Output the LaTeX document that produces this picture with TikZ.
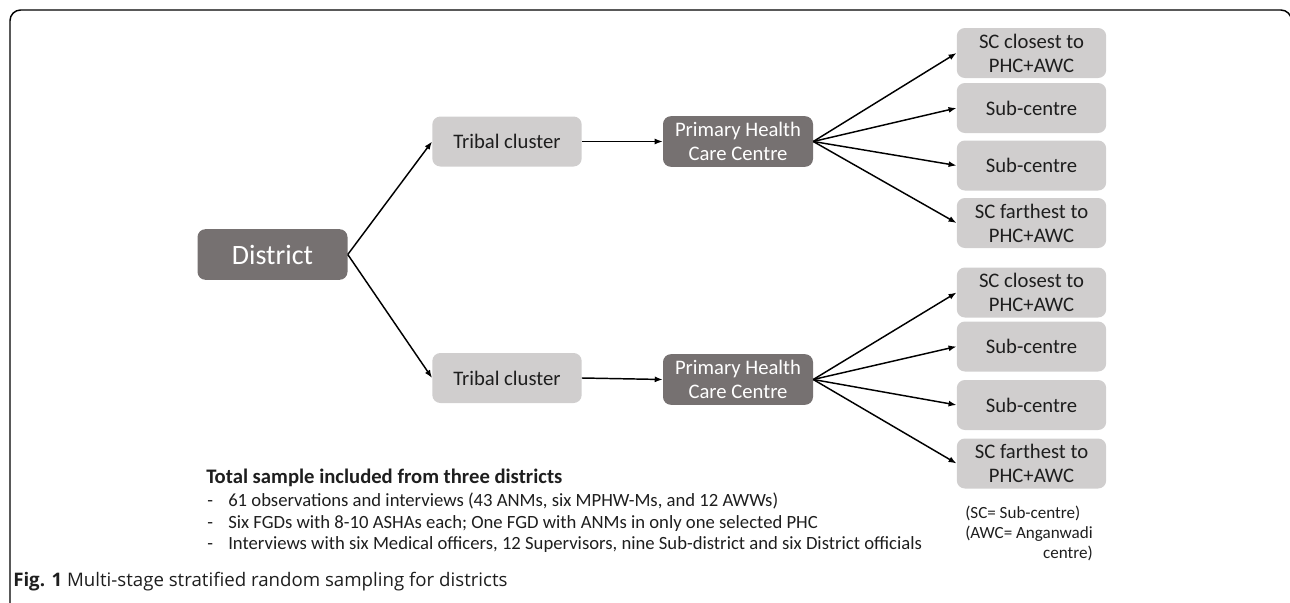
\documentclass[tikz,border=0pt]{standalone}
\usepackage{fontspec}
\setmainfont{Carlito}
\newfontfamily\capfont{Open Sans}
\usepackage{tikz}
\usetikzlibrary{arrows.meta}

\definecolor{darkgrey}{RGB}{118,113,113}
\definecolor{lightgrey}{RGB}{208,206,206}
\definecolor{boxtext}{RGB}{30,30,30}

\tikzset{
  darkbox/.style={rectangle, rounded corners=6pt, fill=darkgrey, text=white, align=center,
    minimum width=112.5pt, minimum height=38pt, inner sep=0pt},
  lightbox/.style={rectangle, rounded corners=6pt, fill=lightgrey, text=boxtext, align=center,
    minimum width=112pt, minimum height=37.5pt, inner sep=0pt,
    font=\fontsize{15.5}{18}\selectfont},
  link/.style={-{Latex[length=6pt,width=4.5pt]}, line width=1.1pt},
  listline/.style={anchor=west, inner sep=0pt, text=boxtext, text height=10pt, text depth=3pt,
    font=\fontsize{14}{16}\selectfont}
}

\begin{document}
\begin{tikzpicture}[x=0.75pt,y=0.75pt,yscale=-1,xscale=1]
\useasboundingbox (0,0) rectangle (1290,603);

%Shape: Frame
\draw [line width=1.1pt, rounded corners=8pt] (10,625) -- (10,10) -- (1291.5,10) -- (1291.5,625);

% District
\node [darkbox, font=\fontsize{21}{24}\selectfont] (district) at (272.5,254.5) {District};

% Tribal clusters
\node [lightbox] (tribalA) at (507,141.5) {Tribal cluster};
\node [lightbox] (tribalB) at (507,378) {Tribal cluster};

% Primary health care centres
\node [darkbox, font=\fontsize{15.5}{18}\selectfont] (phcA) at (738,141.5) {Primary Health\\Care Centre};
\node [darkbox, font=\fontsize{15.5}{18}\selectfont] (phcB) at (738,379.5) {Primary Health\\Care Centre};

% Sub-centres, upper group
\node [lightbox] (scA1) at (1031.5,53) {SC closest to\\PHC+AWC};
\node [lightbox] (scA2) at (1031.5,108) {Sub-centre};
\node [lightbox] (scA3) at (1031.5,165.5) {Sub-centre};
\node [lightbox] (scA4) at (1031.5,223) {SC farthest to\\PHC+AWC};

% Sub-centres, lower group
\node [lightbox] (scB1) at (1031.5,292.5) {SC closest to\\PHC+AWC};
\node [lightbox] (scB2) at (1031.5,346.5) {Sub-centre};
\node [lightbox] (scB3) at (1031.5,405) {Sub-centre};
\node [lightbox] (scB4) at (1031.5,463.5) {SC farthest to\\PHC+AWC};

% Connectors
\draw [link] (district.east) -- (tribalA.west);
\draw [link] (district.east) -- (tribalB.west);
\draw [link] (tribalA.east) -- (phcA.west);
\draw [link] (tribalB.east) -- (phcB.west);
\foreach \i in {1,2,3,4} {
  \draw [link] (phcA.east) -- (scA\i.west);
  \draw [link] (phcB.east) -- (scB\i.west);
}

% Text Node
\node [listline, text height=12pt, font=\bfseries\fontsize{15.5}{18}\selectfont] (sample) at (206,477)
  {Total sample included from three districts};
\node [listline] (dashA) at (207,502) {-};
\node [listline] (lineA) at (228,502) {61 observations and interviews (43 ANMs, six MPHW-Ms, and 12 AWWs)};
\node [listline] (dashB) at (207,523.5) {-};
\node [listline] (lineB) at (228,523.5) {Six FGDs with 8-10 ASHAs each; One FGD with ANMs in only one selected PHC};
\node [listline] (dashC) at (207,545) {-};
\node [listline] (lineC) at (228,545) {Interviews with six Medical officers, 12 Supervisors, nine Sub-district and six District officials};

% Text Node
\node [anchor=north west, inner sep=0pt, text=boxtext,
  font=\fontsize{12.8}{15}\selectfont] (legend) at (965,504)
  {\begin{tabular}{@{}l@{}}(SC= Sub-centre)\\(AWC= Anganwadi\\\hfill centre)\end{tabular}};

% Text Node
\node [anchor=west, inner sep=0pt, text=boxtext, font=\capfont\fontsize{14}{16}\selectfont] (caption) at (13,582)
  {{\bfseries Fig. 1} Multi-stage stratified random sampling for districts};

\end{tikzpicture}
\end{document}
